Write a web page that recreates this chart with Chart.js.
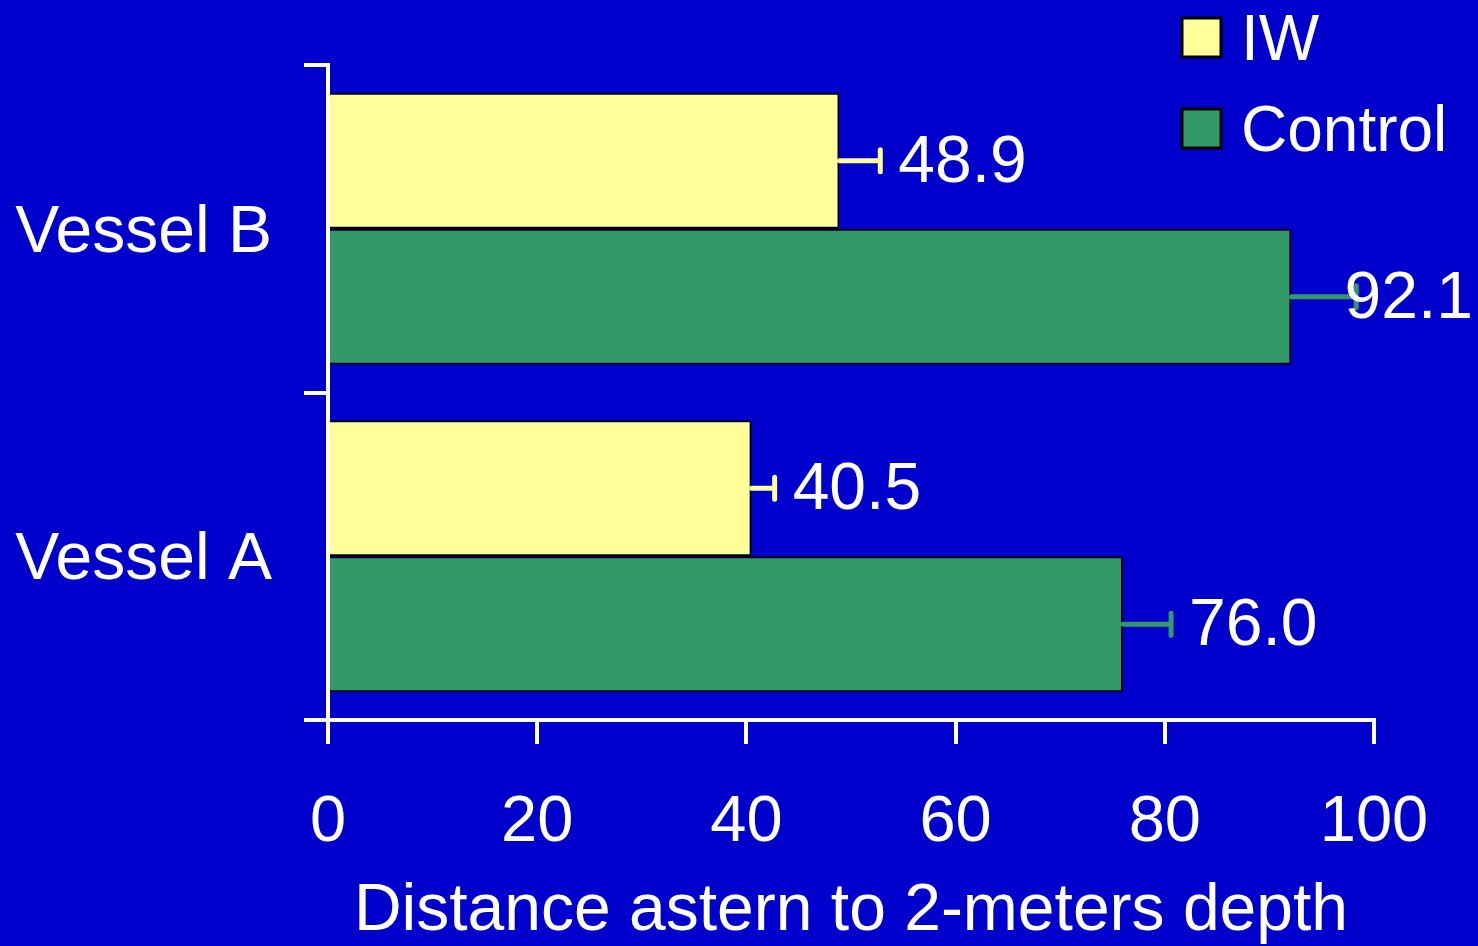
<!DOCTYPE html>
<html>
<head>
<meta charset="utf-8">
<script src="https://cdn.jsdelivr.net/npm/chart.js@4"></script>
<style>
  html, body { margin: 0; padding: 0; background: #0000cc; overflow: hidden; }
  #wrap { width: 1478px; height: 946px; }
</style>
</head>
<body>
<div id="wrap"><canvas id="myChart" width="1478" height="946"></canvas></div>
<script>
const categories = ["Vessel B", "Vessel A"];
const seriesNames = ["IW", "Control"];
const iwValues = [48.9, 40.5];
const controlValues = [92.1, 76.0];
const iwErrors = [3.9, 2.2];
const controlErrors = [6.2, 4.6];
const xTicks = [0, 20, 40, 60, 80, 100];
const xTitle = "Distance astern to 2-meters depth";

const FONT = "'Liberation Sans', Arial, sans-serif";
const YELLOW = "#ffff99";
const GREEN = "#339966";

// error bars + value labels drawn through the x scale
const errorBarPlugin = {
    id: "errorBars",
    afterDatasetsDraw(chart) {
        const ctx = chart.ctx;
        const xScale = chart.scales.x;
        ctx.save();
        chart.data.datasets.forEach((ds, di) => {
            const meta = chart.getDatasetMeta(di);
            meta.data.forEach((bar, i) => {
                const v = ds.data[i];
                const err = ds.errors[i];
                const x0 = xScale.getPixelForValue(v);
                const x1 = xScale.getPixelForValue(v + err);
                const y = bar.y;
                ctx.strokeStyle = ds.backgroundColor;
                ctx.lineWidth = 5;
                ctx.lineCap = "round";
                ctx.beginPath();
                ctx.moveTo(x0, y);
                ctx.lineTo(x1, y);
                ctx.moveTo(x1, y - 11);
                ctx.lineTo(x1, y + 11);
                ctx.stroke();

                const txt = v.toFixed(1);
                ctx.font = "66px " + FONT;
                ctx.fillStyle = "#ffffff";
                ctx.textAlign = "left";
                ctx.textBaseline = "middle";
                const w = ctx.measureText(txt).width;
                let tx = x1 + 18;
                if (tx + w > chart.width - 5) tx = chart.width - 5 - w;
                ctx.fillText(txt, tx, y + 3);
            });
        });
        ctx.restore();
    }
};

// legend in the top right corner
const legendPlugin = {
    id: "cornerLegend",
    afterDraw(chart) {
        const ctx = chart.ctx;
        ctx.save();
        chart.data.datasets.forEach((ds, i) => {
            const bx = 1182, by = 18 + i * 91;
            ctx.fillStyle = ds.backgroundColor;
            ctx.fillRect(bx, by, 39, 39);
            ctx.strokeStyle = "#000000";
            ctx.lineWidth = 3;
            ctx.strokeRect(bx, by, 39, 39);
            ctx.fillStyle = "#ffffff";
            ctx.font = "64px " + FONT;
            ctx.textAlign = "left";
            ctx.textBaseline = "alphabetic";
            ctx.fillText(ds.label, 1241, by + 42);
        });
        ctx.restore();
    }
};

const ctx = document.getElementById("myChart").getContext("2d");
new Chart(ctx, {
    type: "bar",
    data: {
        labels: categories,
        datasets: [
            {
                label: seriesNames[0],
                data: iwValues,
                errors: iwErrors,
                backgroundColor: YELLOW,
                borderColor: "#000000",
                borderWidth: 2,
                barPercentage: 1.0,
                categoryPercentage: 0.83
            },
            {
                label: seriesNames[1],
                data: controlValues,
                errors: controlErrors,
                backgroundColor: GREEN,
                borderColor: "#000000",
                borderWidth: 2,
                barPercentage: 1.0,
                categoryPercentage: 0.83
            }
        ]
    },
    options: {
        indexAxis: "y",
        responsive: false,
        animation: false,
        layout: { padding: { top: 65, right: 104, left: 0, bottom: 0 } },
        plugins: {
            legend: { display: false },
            tooltip: { enabled: false }
        },
        scales: {
            x: {
                min: 0,
                max: 100,
                afterBuildTicks: (scale) => { scale.ticks = xTicks.map(v => ({ value: v })); },
                afterFit: (scale) => { scale.height = 226; },
                grid: {
                    drawOnChartArea: false,
                    drawTicks: true,
                    tickLength: 24,
                    color: "#ffffff",
                    lineWidth: 4
                },
                border: { display: true, color: "#ffffff", width: 4 },
                ticks: {
                    color: "#ffffff",
                    padding: 40,
                    maxRotation: 0,
                    font: { family: FONT, size: 65 }
                },
                title: {
                    display: true,
                    text: xTitle,
                    color: "#ffffff",
                    padding: { top: 0, bottom: 0 },
                    font: { family: FONT, size: 66, lineHeight: 1.05 }
                }
            },
            y: {
                offset: true,
                afterFit: (scale) => {
                    scale.width = 328;
                    scale.paddingTop = 0;
                    scale.paddingBottom = 0;
                },
                grid: {
                    offset: true,
                    drawOnChartArea: false,
                    drawTicks: true,
                    tickLength: 24,
                    color: "#ffffff",
                    lineWidth: 4
                },
                border: { display: true, color: "#ffffff", width: 4 },
                ticks: {
                    color: "#ffffff",
                    padding: 32,
                    labelOffset: 5,
                    font: { family: FONT, size: 66 }
                }
            }
        }
    },
    plugins: [errorBarPlugin, legendPlugin]
});
</script>
</body>
</html>
